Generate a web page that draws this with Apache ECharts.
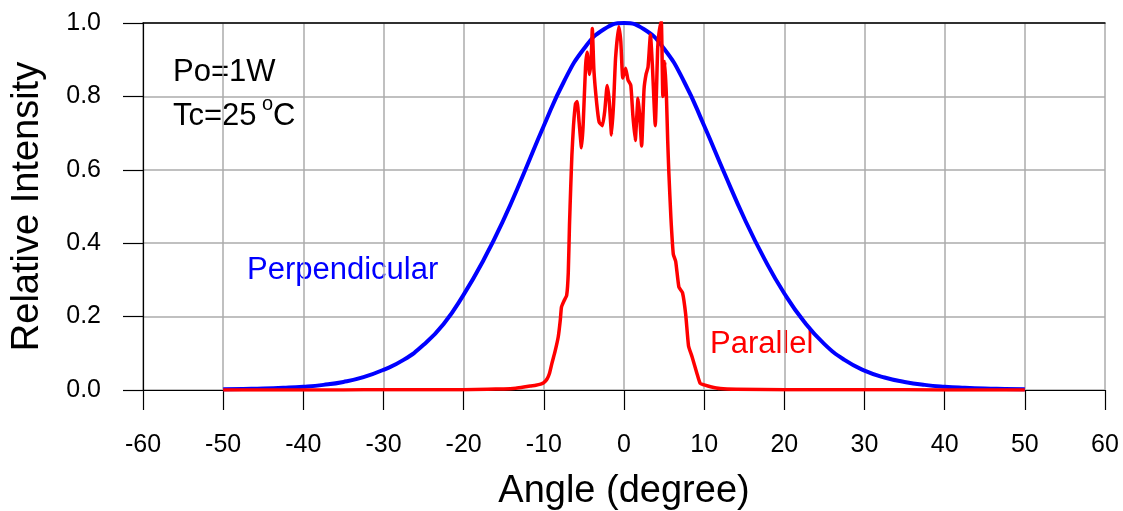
<!DOCTYPE html>
<html>
<head>
<meta charset="utf-8">
<script src="https://cdn.jsdelivr.net/npm/echarts@6/dist/echarts.min.js"></script>
<style>
html,body{margin:0;padding:0;background:#fff;}
#c{width:1123px;height:511px;}
</style>
</head>
<body>
<div id="c"></div>
<script>
// ---- data ----
var xTicks = [-60,-50,-40,-30,-20,-10,0,10,20,30,40,50,60];
var yTicks = [0.0,0.2,0.4,0.6,0.8,1.0];

var perpAngles = [-50,-47.5,-45,-42.5,-40,-37.5,-35,-32.5,-30,-27.5,-25,-22.5,-20,-17.5,-15,-12.5,-10,-7.5,-5,-2.5,0,
                  2.5,5,7.5,10,12.5,15,17.5,20,22.5,25,27.5,30,32.5,35,37.5,40,42.5,45,47.5,50];
var perpValues = [0.002,0.003,0.004,0.006,0.009,0.014,0.022,0.035,0.055,0.082,0.123,0.18,0.26,0.355,0.465,0.59,0.72,0.84,0.93,0.983,1.0,
                  0.983,0.93,0.84,0.72,0.592,0.468,0.358,0.263,0.185,0.125,0.082,0.053,0.034,0.022,0.014,0.009,0.006,0.004,0.003,0.002];

var paraAngles = [-50,-45,-40,-35,-30,-25,-20,-17,-15,-13.5,-12.5,-11.7,-11,-10.4,-10,-9.6,-9.3,-9,-8.6,-8.2,-7.95,-7.8,-7.5,-7.15,-6.95,-6.8,-6.65,-6.5,-6.3,-6.05,-5.85,-5.6,-5.3,-5.1,-4.8,-4.6,-4.3,-4.1,-3.95,-3.75,-3.4,-3.1,-2.7,-2.4,-2.1,-1.85,-1.55,-1.3,-1.05,-0.65,-0.4,-0.15,
                  0.2,0.5,0.85,1.1,1.4,1.75,1.95,2.2,2.5,2.75,3.0,3.3,3.55,3.9,4.2,4.35,4.65,4.85,5.1,5.3,5.45,5.6,5.85,6.15,6.45,6.85,7.3,7.7,8.05,8.5,9.1,9.5,10.0,10.8,12,14,20,30,40,50];
var paraValues = [0.0,0.0,0.0,0.0,0.001,0.001,0.001,0.002,0.003,0.005,0.008,0.011,0.013,0.016,0.02,0.03,0.045,0.072,0.105,0.145,0.19,0.226,0.242,0.258,0.32,0.45,0.55,0.64,0.72,0.78,0.786,0.73,0.66,0.72,0.88,0.92,0.86,0.9,0.985,0.87,0.78,0.73,0.72,0.76,0.83,0.79,0.695,0.78,0.905,0.99,0.95,0.85,
                  0.877,0.845,0.83,0.75,0.68,0.795,0.75,0.665,0.82,0.86,0.88,0.968,0.88,0.72,0.93,0.97,1.005,0.80,0.895,0.795,0.68,0.59,0.47,0.37,0.35,0.28,0.265,0.205,0.12,0.09,0.045,0.018,0.014,0.009,0.004,0.002,0.001,0.001,0.0,0.0];

var FONT = 'Arial, "Liberation Sans", sans-serif';

function pairs(xs, ys){ var o=[]; for(var i=0;i<xs.length;i++) o.push([xs[i], ys[i]]); return o; }

var chart = echarts.init(document.getElementById('c'), null, {renderer:'canvas'});
var gridColor = '#ababab';
chart.setOption({
  animation:false,
  backgroundColor:'#ffffff',
  grid:{left:143, right:18, top:23, bottom:121, containLabel:false, outerBoundsMode:'none'},
  xAxis:[{
    type:'value', min:xTicks[0], max:xTicks[xTicks.length-1], interval:10,
    axisLine:{show:true, onZero:false, lineStyle:{color:'#000', width:1.2}},
    axisTick:{show:true, inside:false, length:20, lineStyle:{color:'#000', width:1.2}},
    axisLabel:{margin:43, fontSize:25, color:'#000', fontFamily:FONT},
    splitLine:{show:true, lineStyle:{color:gridColor, width:1.5}},
    name:'Angle (degree)', nameLocation:'middle', nameGap:83,
    nameTextStyle:{fontSize:38, color:'#000', fontFamily:FONT}
  },{
    type:'value', position:'top', min:xTicks[0], max:xTicks[xTicks.length-1], interval:10,
    axisLine:{show:true, onZero:false, lineStyle:{color:'#000', width:1.5}},
    axisTick:{show:false}, axisLabel:{show:false}, splitLine:{show:false}
  }],
  yAxis:{
    type:'value', min:yTicks[0], max:yTicks[yTicks.length-1], interval:0.2,
    axisLine:{show:true, onZero:false, lineStyle:{color:'#000', width:1.2}},
    axisTick:{show:true, inside:false, length:20, lineStyle:{color:'#000', width:1.2}},
    axisLabel:{margin:42, fontSize:25, color:'#000', fontFamily:FONT,
               formatter:function(v){return v.toFixed(1);}},
    splitLine:{show:true, lineStyle:{color:gridColor, width:1.5}},
    name:'Relative Intensity', nameLocation:'middle', nameGap:96, nameRotate:90,
    nameTextStyle:{fontSize:38, color:'#000', fontFamily:FONT}
  },
  series:[{
    name:'Perpendicular', type:'line', xAxisIndex:0, data:pairs(perpAngles, perpValues),
    smooth:0.5, showSymbol:false, lineStyle:{color:'#0000ff', width:4}, z:2
  },{
    name:'Parallel', type:'line', xAxisIndex:0, data:pairs(paraAngles, paraValues),
    smooth:0.15, showSymbol:false, lineStyle:{color:'#ff0000', width:3.5, join:'round'}, z:3
  }],
  graphic:[
    {type:'text', left:173, top:57, style:{text:'Po=1W', fontSize:31, fill:'#000', fontFamily:FONT}},
    {type:'text', left:173, top:101, style:{text:'Tc=25', fontSize:31, fill:'#000', fontFamily:FONT}},
    {type:'text', left:262, top:94, style:{text:'o', fontSize:20, fill:'#000', fontFamily:FONT}},
    {type:'text', left:273, top:101, style:{text:'C', fontSize:31, fill:'#000', fontFamily:FONT}},
    {type:'text', left:247, top:255, style:{text:'Perpendicular', fontSize:31, fill:'#0000ff', fontFamily:FONT}},
    {type:'text', left:710, top:329, style:{text:'Parallel', fontSize:31, fill:'#ff0000', fontFamily:FONT}}
  ]
});
</script>
</body>
</html>
